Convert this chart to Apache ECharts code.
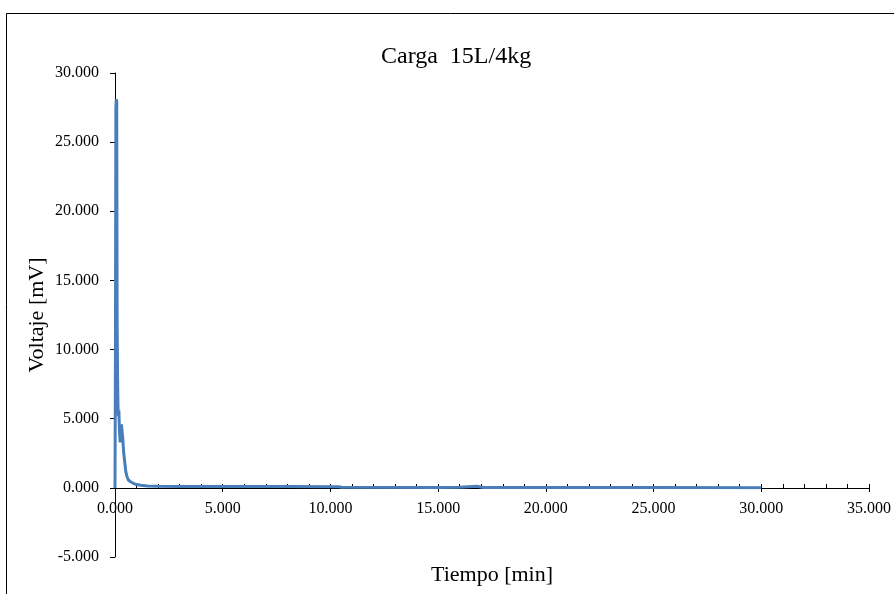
<!DOCTYPE html>
<html>
<head>
<meta charset="utf-8">
<title>Carga 15L/4kg</title>
<script src="https://cdn.jsdelivr.net/npm/echarts@6/dist/echarts.min.js"></script>
<style>
  html, body { margin: 0; padding: 0; background: #fff; }
  #chart { width: 894px; height: 594px; }
</style>
</head>
<body>
<div id="chart"></div>
<script>
// datos
const titleText = 'Carga  15L/4kg'
const xName = 'Tiempo [min]'
const yName = 'Voltaje [mV]'

const timeMin = [0, 0.02, 0.04, 0.06, 0.08, 0.10, 0.12, 0.14, 0.16, 0.18, 0.21, 0.24, 0.27, 0.30, 0.33, 0.36,
  0.40, 0.45, 0.50, 0.55, 0.62, 0.72, 0.85, 1.0, 1.2, 1.5, 2.0, 3.0, 5.0, 8.0, 10.4, 10.5, 15.0, 16.0,
  16.8, 17.1, 20.0, 25.0, 30.0]
const voltage = [0, 9.5, 27.5, 28.1, 27.9, 12.0, 8.0, 5.8, 5.2, 5.6, 4.0, 3.3, 3.4, 4.6, 4.5, 3.6,
  2.6, 1.9, 1.2, 0.85, 0.58, 0.45, 0.34, 0.25, 0.2, 0.14, 0.12, 0.11, 0.1, 0.1, 0.09, 0.05, 0.04, 0.05,
  0.12, 0.04, 0.03, 0.03, 0.02]

const chart = echarts.init(document.getElementById('chart'))

const font = '"Liberation Serif", "Times New Roman", serif'
const fmt = (v) => v.toFixed(3)

// rejilla 0: datos (0..30), con el eje X en su borde inferior (= cero)
// rejilla 1: solo el eje Y completo (-5..30)
const option = {
  backgroundColor: '#fff',
  textStyle: { fontFamily: font },
  title: {
    text: titleText,
    left: 376,
    top: 40,
    textStyle: { fontFamily: font, fontSize: 24, fontWeight: 'normal', color: '#000' }
  },
  graphic: [
    {
      type: 'rect',
      shape: { x: 6.5, y: 13.5, width: 900, height: 600 },
      style: { fill: null, stroke: '#000', lineWidth: 1 },
      silent: true
    }
  ],
  grid: [
    { left: 115, right: 25, top: 73, bottom: 106, outerBoundsMode: 'none', containLabel: false },
    { left: 115, right: 25, top: 73, bottom: 37, outerBoundsMode: 'none', containLabel: false }
  ],
  xAxis: [
    {
      type: 'value',
      gridIndex: 0,
      position: 'bottom',
      min: 0,
      max: 35,
      interval: 5,
      name: xName,
      nameLocation: 'middle',
      nameGap: 76,
      nameMoveOverlap: false,
      nameTextStyle: { fontFamily: font, fontSize: 22, color: '#000' },
      axisLine: { onZero: false, lineStyle: { color: '#000', width: 1 } },
      axisTick: { show: true, inside: true, length: 4, lineStyle: { color: '#000' } },
      minorTick: { show: true, splitNumber: 5, length: 4, lineStyle: { color: '#000' } },
      axisLabel: { formatter: fmt, fontFamily: font, fontSize: 16, color: '#000', margin: 13 },
      splitLine: { show: false }
    },
    {
      // marcas mayores hacia abajo, para que crucen el eje
      type: 'value',
      gridIndex: 0,
      position: 'bottom',
      min: 0,
      max: 35,
      interval: 5,
      axisLine: { show: true, onZero: false, lineStyle: { color: 'rgba(0,0,0,0)' } },
      axisTick: { show: true, inside: false, length: 4, lineStyle: { color: '#000' } },
      axisLabel: { show: false },
      splitLine: { show: false }
    },
    {
      type: 'value',
      gridIndex: 1,
      min: 0,
      max: 35,
      show: false
    }
  ],
  yAxis: [
    {
      type: 'value',
      gridIndex: 0,
      min: 0,
      max: 30,
      show: false
    },
    {
      type: 'value',
      gridIndex: 1,
      min: -5,
      max: 30,
      interval: 5,
      name: yName,
      nameLocation: 'middle',
      nameGap: 67,
      nameMoveOverlap: false,
      nameTextStyle: { fontFamily: font, fontSize: 22, color: '#000' },
      axisLine: { show: true, onZero: false, lineStyle: { color: '#000', width: 1 } },
      axisTick: { show: true, inside: false, length: 5, lineStyle: { color: '#000' } },
      axisLabel: { formatter: fmt, fontFamily: font, fontSize: 16, color: '#000', margin: 16 },
      splitLine: { show: false }
    }
  ],
  series: [
    {
      type: 'line',
      xAxisIndex: 0,
      yAxisIndex: 0,
      showSymbol: false,
      clip: false,
      z: 5,
      lineStyle: { color: '#4A7EBB', width: 3 },
      itemStyle: { color: '#4A7EBB' },
      data: timeMin.map((t, i) => [t, voltage[i]])
    }
  ]
}

chart.setOption(option)
</script>
</body>
</html>
